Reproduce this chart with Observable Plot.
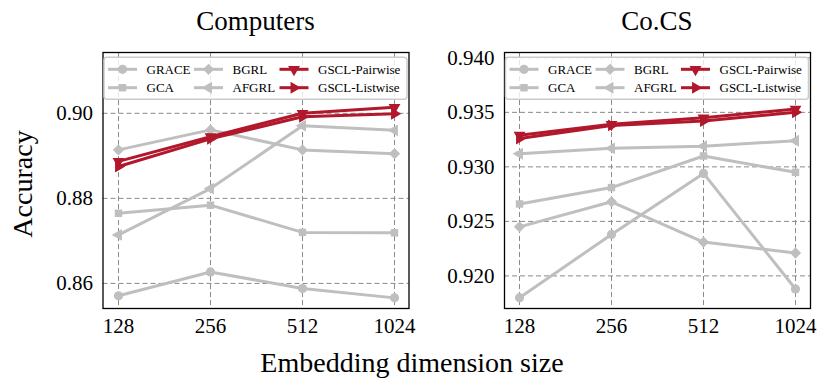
<!DOCTYPE html>
<html>
<head>
<meta charset="utf-8">
<script src="https://cdn.jsdelivr.net/npm/d3@7"></script>
<script src="https://cdn.jsdelivr.net/npm/@observablehq/plot@0.6"></script>
<style>
  body { margin: 0; background: #fff; }
  #fig { position: relative; width: 829px; height: 388px; overflow: hidden;
         font-family: "Liberation Serif", "Times New Roman", serif; }
  #fig > .panel { position: absolute; top: 0; }
  #fig > svg.overlay { position: absolute; left: 0; top: 0; pointer-events: none; }
  #fig svg, #fig svg text { font-family: "Liberation Serif", "Times New Roman", serif !important; }
</style>
</head>
<body>
<div id="fig"></div>
<script>
// ---- data ----
const dims = ["128", "256", "512", "1024"];
const methods = ["GRACE", "GCA", "BGRL", "AFGRL", "GSCL-Pairwise", "GSCL-Listwise"];

const computersGRACE = [0.8571, 0.8627, 0.8588, 0.8566];
const computersGCA   = [0.8765, 0.8784, 0.8720, 0.8719];
const computersBGRL  = [0.8914, 0.8961, 0.8914, 0.8905];
const computersAFGRL = [0.8714, 0.8823, 0.8971, 0.8960];
const computersPairwise = [0.8887, 0.8945, 0.9000, 0.9014];
const computersListwise = [0.8875, 0.8940, 0.8992, 0.8999];

const cocsGRACE = [0.9180, 0.9238, 0.9294, 0.9188];
const cocsGCA   = [0.9266, 0.9281, 0.9310, 0.9295];
const cocsBGRL  = [0.9245, 0.9268, 0.9231, 0.9221];
const cocsAFGRL = [0.9312, 0.9317, 0.9319, 0.9324];
const cocsPairwise = [0.9329, 0.9339, 0.9345, 0.9353];
const cocsListwise = [0.9326, 0.9338, 0.9342, 0.9350];

const computersTicks = [0.86, 0.88, 0.90];
const cocsTicks = [0.920, 0.925, 0.930, 0.935, 0.940];

const titles = ["Computers", "Co.CS"];
const yLabel = "Accuracy";
const xLabel = "Embedding dimension size";

// ---- styles ----
const GRAY = "#bfbfbf", RED = "#b2182b";
const style = {
  "GRACE":         {color: GRAY, symbol: "circle",   rotate: 0,   r: 4.6},
  "GCA":           {color: GRAY, symbol: "square",   rotate: 0,   r: 4.2},
  "BGRL":          {color: GRAY, symbol: "square",   rotate: 45,  r: 4.5},
  "AFGRL":         {color: GRAY, symbol: "triangle", rotate: -90, r: 4.4},
  "GSCL-Pairwise": {color: RED,  symbol: "triangle", rotate: 180, r: 4.4},
  "GSCL-Listwise": {color: RED,  symbol: "triangle", rotate: 90,  r: 4.4}
};

function table(series) {
  const rows = [];
  methods.forEach((m, i) => series[i].forEach((v, j) => rows.push({method: m, dim: dims[j], acc: v})));
  return rows;
}
const computersData = table([computersGRACE, computersGCA, computersBGRL, computersAFGRL, computersPairwise, computersListwise]);
const cocsData = table([cocsGRACE, cocsGCA, cocsBGRL, cocsAFGRL, cocsPairwise, cocsListwise]);

const FONT = "'Liberation Serif', 'Times New Roman', serif";
const fig = document.getElementById("fig");

function panel(data, yDomain, ticks, fmt, opts) {
  const marks = [
    Plot.ruleY(ticks, {stroke: "#8a8a8a", strokeWidth: 1, strokeDasharray: "5,3"}),
    Plot.ruleX(dims, {stroke: "#8a8a8a", strokeWidth: 1, strokeDasharray: "5,3"})
  ];
  for (const m of methods) {
    const s = style[m];
    const d = data.filter(r => r.method === m);
    marks.push(Plot.line(d, {x: "dim", y: "acc", stroke: s.color, strokeWidth: 3}));
    marks.push(Plot.dot(d, {x: "dim", y: "acc", symbol: s.symbol, rotate: s.rotate, r: s.r, fill: s.color, stroke: "none"}));
  }
  marks.push(Plot.frame({stroke: "black", strokeWidth: 1.3}));
  const p = Plot.plot({
    width: opts.width, height: 340,
    marginLeft: opts.marginLeft, marginRight: opts.marginRight, marginTop: 52, marginBottom: 32,
    style: {fontFamily: FONT, fontSize: "21px", color: "black", background: "transparent", overflow: "visible"},
    x: {domain: dims, type: "point", padding: 0.15, tickSize: 0, tickPadding: 10, label: null},
    y: {domain: yDomain, ticks: ticks, tickFormat: d3.format(fmt), tickSize: 0, tickPadding: 10, label: null},
    marks
  });
  p.classList.add("panel");
  p.style.left = opts.left + "px";
  fig.appendChild(p);
}

// left: frame 102.5..408.5 ; right: frame 504..810
panel(computersData, [0.8541, 0.9143], computersTicks, ".2f", {left: 0, width: 412, marginLeft: 102.5, marginRight: 3.5});
panel(cocsData, [0.91701, 0.94049], cocsTicks, ".3f", {left: 412, width: 417, marginLeft: 92, marginRight: 19});

// ---- overlay: titles, axis labels, legends ----
const ov = d3.select(fig).append("svg").attr("class", "overlay")
  .attr("width", 829).attr("height", 388)
  .style("font-family", FONT);

const frames = [[102.5, 408.5], [504, 810]];
frames.forEach(([l, r], i) => {
  ov.append("text").attr("x", (l + r) / 2).attr("y", 29.5).attr("text-anchor", "middle")
    .attr("font-size", 27).text(titles[i]);
});
ov.append("text").attr("transform", "translate(32,184) rotate(-90)").attr("text-anchor", "middle")
  .attr("font-size", 28).text(yLabel);
ov.append("text").attr("x", 412).attr("y", 371.5).attr("text-anchor", "middle")
  .attr("font-size", 28).text(xLabel);

frames.forEach(([l, r]) => {
  const bx = l + 1.5, by = 57.3, bw = (r - l) - 3, bh = 42;
  const g = ov.append("g");
  g.append("rect").attr("x", bx).attr("y", by).attr("width", bw).attr("height", bh)
    .attr("rx", 3).attr("fill", "white").attr("fill-opacity", 0.8)
    .attr("stroke", "#cccccc").attr("stroke-width", 1.5);
  const colX = [4, 90, 175.5], rowY = [69.3, 87.7];
  methods.forEach((m, k) => {
    const s = style[m];
    const x0 = bx + colX[Math.floor(k / 2)], y = rowY[k % 2];
    g.append("line").attr("x1", x0).attr("x2", x0 + 29).attr("y1", y).attr("y2", y)
      .attr("stroke", s.color).attr("stroke-width", 3);
    const sym = {circle: d3.symbolCircle, square: d3.symbolSquare, triangle: d3.symbolTriangle}[s.symbol];
    g.append("path").attr("d", d3.symbol(sym, Math.PI * s.r * s.r)())
      .attr("transform", `translate(${x0 + 14.5},${y}) rotate(${s.rotate})`)
      .attr("fill", s.color);
    g.append("text").attr("x", x0 + 38.5).attr("y", y).attr("dy", "0.34em")
      .attr("font-size", 13).text(m);
  });
});
</script>
</body>
</html>
